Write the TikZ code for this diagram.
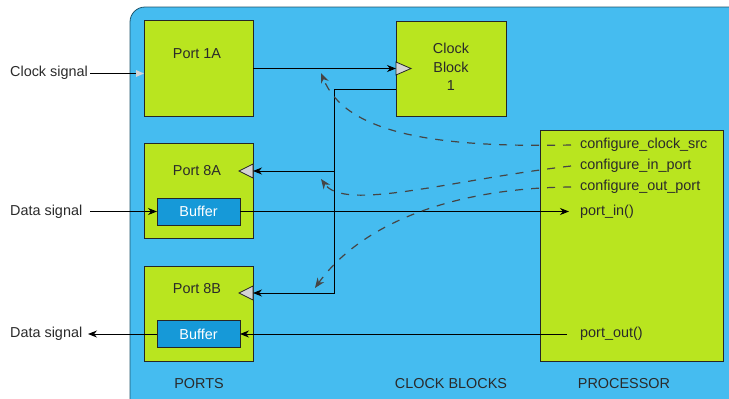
\documentclass[tikz,border=0pt]{standalone}
\usepackage{fontspec}
\setmainfont{Liberation Sans}
\usetikzlibrary{arrows.meta}
\definecolor{bgblue}{HTML}{45BCF0}
\definecolor{portgreen}{HTML}{B9E51F}
\definecolor{bufblue}{HTML}{1699D8}
\definecolor{dashgray}{HTML}{454545}
\definecolor{txtc}{HTML}{2A2A2A}
\definecolor{tipgray}{HTML}{D4D4D4}
\tikzset{
  box/.style={draw=black!85, fill=portgreen, line width=0.9pt, inner sep=0pt, outer sep=0pt},
  bufbox/.style={draw=black!85, fill=bufblue, line width=0.9pt, inner sep=0pt, outer sep=0pt,
    minimum width=83pt, minimum height=27pt, text=white},
  lbl/.style={text=txtc, inner sep=0pt},
  wire/.style={draw=black, line width=0.9pt},
  arr/.style={wire, -{Stealth[length=9pt,width=7pt]}},
  ctl/.style={draw=dashgray, line width=1.2pt, dash pattern=on 8pt off 8pt,
    -{Stealth[length=10pt,width=8pt,fill=dashgray]}},
  clkin/.style={draw=black!85, fill=tipgray, line width=0.8pt}
}
\begin{document}
\begin{tikzpicture}[x=1pt, y=-1pt, font=\fontsize{14.4}{18.5}\selectfont]
\useasboundingbox (0,0) rectangle (729,399);

% blue background panel, running off the right and bottom edges
\begin{scope}
  \clip (0,0) rectangle (729,399);
  \draw[fill=bgblue, draw=bgblue!45!black, line width=0.8pt, rounded corners=15pt]
    (130,7) rectangle (750,420);
\end{scope}

% ports
\node[box, minimum width=109pt, minimum height=96pt] (p1a) at (198.5,68) {};
\node[box, minimum width=109pt, minimum height=95pt] (p8a) at (198.5,190.5) {};
\node[box, minimum width=109pt, minimum height=95pt] (p8b) at (198.5,313.5) {};
\node[lbl] (t1a) at (197,54) {Port 1A};
\node[lbl] (t8a) at (197,171) {Port 8A};
\node[lbl] (t8b) at (197,289) {Port 8B};
\node[bufbox] (bufa) at (198.5,211.5) {Buffer};
\node[bufbox] (bufb) at (198.5,334) {Buffer};

% clock block
\node[box, minimum width=110pt, minimum height=95pt] (clk) at (451,68.5) {};
\node[lbl, align=center] (tclk) at (451,67) {Clock\\Block\\1};

% processor
\node[box, minimum width=183pt, minimum height=231pt] (proc) at (631.5,245.5) {};
\node[lbl, anchor=west] (fclk) at (580,145) {configure\_clock\_src};
\node[lbl, anchor=west] (fin) at (580,166) {configure\_in\_port};
\node[lbl, anchor=west] (fout) at (580,187) {configure\_out\_port};
\node[lbl, anchor=west] (pin) at (580,211.5) {port\_in()};
\node[lbl, anchor=west] (pout) at (580,334) {port\_out()};

% section captions
\node[lbl] (cap1) at (199,384) {PORTS};
\node[lbl] (cap2) at (451,384) {CLOCK BLOCKS};
\node[lbl] (cap3) at (624,384) {PROCESSOR};

% outside signals
\node[lbl, anchor=west] (csig) at (10,73) {Clock signal};
\node[lbl, anchor=west] (dsin) at (10,211.5) {Data signal};
\node[lbl, anchor=west] (dsout) at (10,334) {Data signal};

% clock inputs drawn as open triangles
\draw[clkin] (396,62) -- (411,68.5) -- (396,75) -- cycle;
\draw[clkin] (253,164) -- (239,171) -- (253,178) -- cycle;
\draw[clkin] (253,286) -- (239,293) -- (253,300) -- cycle;

% wire end points
\coordinate (csrc) at (90,73.5);
\coordinate (dsrc) at (90,211.5);
\coordinate (ddst) at (88,334);
\coordinate (clkout) at (396,89);
\coordinate (j8a) at (334,171);
\coordinate (in8a) at (253,171);
\coordinate (in8b) at (253,293);
\coordinate (pinend) at (569,211.5);
\coordinate (poutsrc) at (567,334);

% signal wires
\draw[wire, -{Triangle[length=8pt,width=7pt,fill=tipgray,line width=0pt]}]
  (csrc) -- (p1a.west |- csrc);
\draw[arr] (p1a.east |- 0,68.5) -- (clk.west);
\draw[arr] (clkout) -- (334,89) |- (in8b);
\draw[arr] (j8a) -- (in8a);
\draw[arr] (dsrc) -- (bufa.west);
\draw[arr] (bufa.east) -- (pinend);
\draw[arr] (poutsrc) -- (bufb.east);
\draw[arr] (bufb.west) -- (ddst);

% configuration calls from the processor
\draw[ctl] (571,145) .. controls (430,148) and (345,132) .. (321,73);
\draw[ctl] (571,166) .. controls (450,180) and (345,212) .. (321,179);
\draw[ctl] (571,187) .. controls (450,188) and (360,225) .. (315,288);
\end{tikzpicture}
\end{document}
